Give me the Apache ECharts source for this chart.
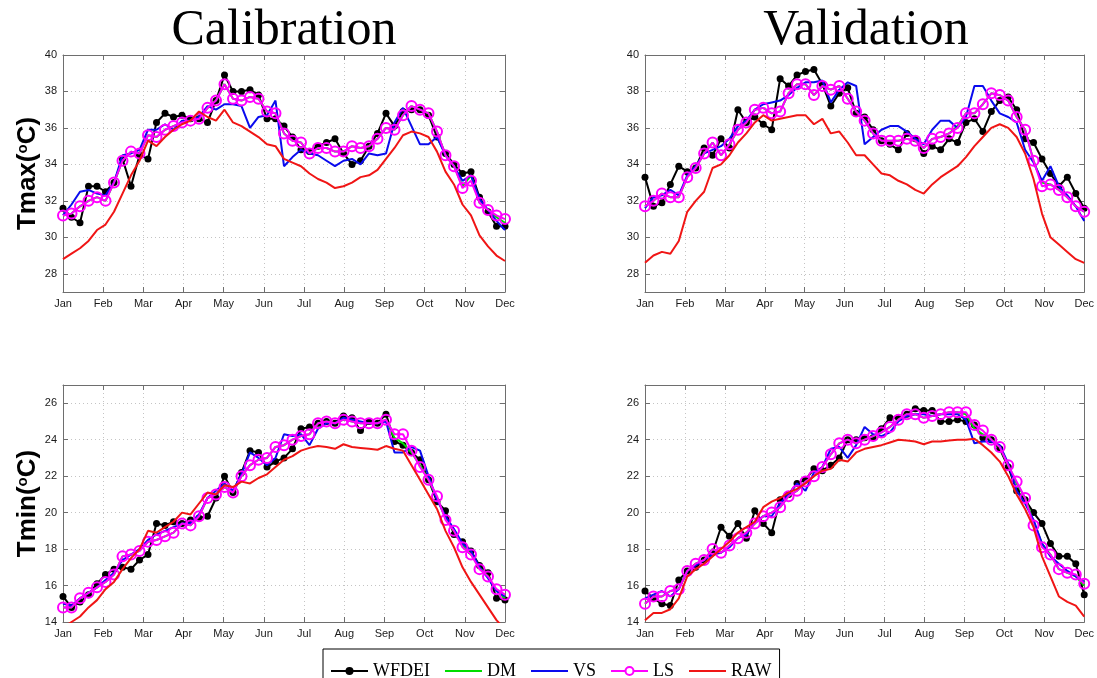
<!DOCTYPE html>
<html>
<head>
<meta charset="utf-8">
<title>Tmax / Tmin seasonal cycle</title>
<script src="https://cdn.jsdelivr.net/npm/echarts@6/dist/echarts.min.js"></script>
<style>
  html, body { margin: 0; padding: 0; background: #ffffff; }
  #chart { width: 1097px; height: 678px; }
</style>
</head>
<body>
<div id="chart"></div>
<script>
// Month tick labels (axis runs from Jan to Dec)
const months = ['Jan', 'Feb', 'Mar', 'Apr', 'May', 'Jun', 'Jul', 'Aug', 'Sep', 'Oct', 'Nov', 'Dec'];
const seriesNames = ['WFDEI', 'DM', 'VS', 'LS', 'RAW'];

// ---- Calibration, Tmax (°C), one value per week ----
const calTmaxWFDEI = [31.6,31.1,30.8,32.8,32.8,32.5,33.0,34.3,32.8,34.5,34.3,36.3,36.8,36.6,36.7,36.5,36.5,36.3,37.5,38.9,38.0,38.0,38.1,37.8,36.5,36.5,36.1,35.5,34.8,34.7,35.0,35.2,35.4,34.6,34.0,34.2,35.0,35.7,36.8,36.1,36.9,37.0,37.0,36.7,35.5,34.6,34.0,33.5,33.6,32.2,31.4,30.6,30.6];
const calTmaxDM    = [31.2,31.3,31.7,32.0,32.2,32.0,33.0,34.2,34.7,34.6,35.6,35.5,35.9,36.1,36.3,36.4,36.5,37.1,37.5,38.4,37.6,37.5,37.7,37.6,36.9,36.8,35.7,35.3,35.2,34.6,34.9,34.9,34.7,34.7,35.0,34.9,35.0,35.4,36.0,35.9,36.7,37.2,37.0,36.8,35.8,34.5,33.9,32.8,33.4,31.9,31.5,31.1,30.8];
const calTmaxVS    = [31.2,31.8,32.5,32.6,32.4,32.3,33.0,34.5,34.6,34.8,35.9,35.9,36.2,35.9,36.4,36.4,36.6,37.2,37.0,37.3,37.3,37.2,36.0,36.6,36.7,37.5,33.9,34.4,34.8,34.6,34.5,34.2,33.9,34.2,34.3,34.0,34.6,34.5,34.6,36.3,37.1,36.1,35.1,35.1,35.5,34.5,33.9,33.1,33.4,32.1,31.5,30.9,30.4];
const calTmaxLS    = [31.2,31.3,31.7,32.0,32.2,32.0,33.0,34.2,34.7,34.6,35.6,35.5,35.9,36.1,36.3,36.4,36.5,37.1,37.5,38.4,37.6,37.5,37.7,37.6,36.9,36.8,35.7,35.3,35.2,34.6,34.9,34.9,34.7,34.7,35.0,34.9,35.0,35.4,36.0,35.9,36.7,37.2,37.0,36.8,35.8,34.5,33.9,32.7,33.1,31.9,31.5,31.2,31.0];
const calTmaxRAW   = [28.8,29.1,29.4,29.8,30.4,30.7,31.4,32.4,33.4,34.2,35.3,35.0,35.5,35.9,36.2,36.4,36.9,36.6,36.4,37.0,36.3,36.1,35.8,35.5,35.1,35.0,34.3,34.1,33.9,33.5,33.2,33.0,32.7,32.8,33.0,33.3,33.4,33.7,34.3,34.9,35.6,35.8,35.7,35.5,34.7,33.6,32.9,31.8,31.2,30.1,29.5,29.0,28.7];

// ---- Validation, Tmax (°C) ----
const valTmaxWFDEI = [33.3,31.7,31.9,32.9,33.9,33.6,33.8,34.9,34.5,35.4,34.9,37.0,36.3,36.6,36.2,35.9,38.7,38.3,38.9,39.1,39.2,38.4,37.2,37.9,38.2,36.8,36.6,35.9,35.3,35.1,34.8,35.7,35.4,34.6,35.0,34.8,35.4,35.2,36.3,36.5,35.8,36.9,37.5,37.7,37.0,35.4,35.2,34.3,33.5,32.8,33.3,32.4,31.6];
const valTmaxDM    = [31.7,32.0,32.4,32.2,32.2,33.3,33.8,34.6,35.2,34.5,35.1,35.9,36.3,37.0,37.1,36.8,36.9,37.9,38.4,38.4,37.8,38.3,38.1,38.3,37.6,36.9,36.4,35.7,35.3,35.3,35.3,35.4,35.3,34.9,35.4,35.5,35.7,36.1,36.8,36.8,37.3,37.9,37.8,37.5,36.6,35.9,34.2,33.0,32.9,32.6,32.2,31.7,31.4];
const valTmaxVS    = [31.6,32.2,32.3,32.6,32.3,33.4,33.9,34.6,34.8,35.0,35.4,36.1,36.4,37.0,37.3,37.4,37.5,37.8,38.2,38.5,38.5,38.6,37.4,38.1,38.5,38.3,35.1,35.5,35.9,36.1,36.1,35.8,35.4,35.1,35.9,36.4,36.4,36.0,36.6,38.3,38.3,37.5,36.8,36.6,36.3,34.8,34.1,33.1,33.9,32.8,32.3,31.7,30.9];
const valTmaxLS    = [31.7,32.0,32.4,32.2,32.2,33.3,33.8,34.6,35.2,34.5,35.1,35.9,36.3,37.0,37.1,36.8,36.9,37.9,38.4,38.4,37.8,38.3,38.1,38.3,37.6,36.9,36.4,35.7,35.3,35.3,35.3,35.4,35.3,34.9,35.4,35.5,35.7,36.0,36.8,36.8,37.3,37.9,37.8,37.5,36.6,35.9,34.2,32.8,32.9,32.6,32.2,31.7,31.4];
const valTmaxRAW   = [28.6,29.0,29.2,29.1,29.8,31.4,32.0,32.5,33.8,34.0,34.5,35.2,35.7,36.3,36.7,36.4,36.5,36.6,36.7,36.7,36.2,36.5,35.7,35.8,35.2,34.5,34.5,34.0,33.5,33.4,33.1,32.9,32.6,32.4,32.9,33.3,33.6,33.9,34.4,35.0,35.5,36.0,36.2,36.0,35.5,34.6,33.2,31.3,30.0,29.6,29.2,28.8,28.6];

// ---- Calibration, Tmin (°C) ----
const calTminWFDEI = [15.4,14.8,15.1,15.5,16.1,16.6,16.9,17.0,16.9,17.4,17.7,19.4,19.3,19.5,19.4,19.6,19.7,19.8,20.8,22.0,21.1,22.2,23.4,23.3,22.5,22.8,23.0,23.5,24.6,24.7,24.9,25.0,24.9,25.3,25.2,24.5,25.0,24.9,25.4,23.9,23.7,23.3,22.9,21.8,20.6,20.1,18.8,18.4,17.9,17.1,16.7,15.3,15.2];
const calTminDM    = [14.8,14.8,15.3,15.6,15.9,16.2,16.6,17.6,17.7,17.9,18.4,18.5,18.7,18.9,19.4,19.3,19.8,20.8,21.0,21.4,21.1,22.0,22.6,22.9,23.0,23.6,23.7,24.0,24.2,24.3,24.9,25.0,24.9,25.1,25.0,24.9,24.9,24.9,25.1,24.1,23.8,23.3,22.6,21.8,20.8,19.7,19.0,18.2,17.7,17.0,16.5,15.7,15.3];
const calTminVS    = [15.0,14.9,15.3,15.6,15.9,16.3,16.7,17.4,17.7,18.0,18.5,18.8,19.0,19.2,19.4,19.4,19.9,20.8,21.2,21.6,21.2,22.1,23.3,23.0,22.6,23.0,24.3,24.2,24.3,23.7,24.6,24.9,24.9,25.2,25.1,25.0,24.9,24.9,25.0,23.3,23.3,23.6,23.4,22.0,20.7,19.8,19.1,18.3,17.9,17.0,16.4,15.7,15.4];
const calTminLS    = [14.8,14.8,15.3,15.6,15.9,16.2,16.6,17.6,17.7,17.9,18.4,18.5,18.7,18.9,19.4,19.3,19.8,20.8,21.0,21.4,21.1,22.0,22.6,22.9,23.0,23.6,23.7,24.0,24.2,24.3,24.9,25.0,24.9,25.1,25.0,24.9,24.9,24.9,25.1,24.3,24.3,23.4,22.5,21.8,20.9,19.6,19.0,18.1,17.7,16.9,16.5,15.8,15.5];
const calTminRAW   = [13.7,14.0,14.3,14.8,15.2,15.8,16.2,16.9,17.5,18.0,19.0,18.9,19.2,19.5,20.0,19.9,20.5,21.1,21.0,21.5,21.4,21.7,21.6,21.9,22.1,22.5,22.9,23.1,23.4,23.55,23.65,23.6,23.5,23.75,23.6,23.55,23.5,23.45,23.65,23.5,23.4,22.6,21.8,21.0,20.2,19.0,18.1,17.0,16.2,15.5,14.8,14.1,13.6];

// ---- Validation, Tmin (°C) ----
const valTminWFDEI = [15.7,15.3,15.0,14.9,16.3,16.8,17.0,17.4,17.8,19.2,18.7,19.4,18.6,20.1,19.4,18.9,20.7,21.0,21.6,21.8,22.4,22.3,22.6,23.0,24.0,24.0,24.1,24.1,24.6,25.2,25.2,25.4,25.7,25.6,25.6,25.0,25.0,25.1,25.0,24.8,24.1,24.0,23.5,22.5,21.2,20.7,20.0,19.4,18.3,17.6,17.6,17.2,15.5];
const valTminDM    = [15.0,15.4,15.4,15.7,15.8,16.8,17.2,17.4,18.0,17.8,18.2,18.6,18.9,19.4,19.8,20.0,20.3,20.9,21.2,21.7,22.0,22.5,23.2,23.8,24.0,23.8,24.0,24.2,24.4,24.7,25.1,25.4,25.4,25.2,25.3,25.4,25.5,25.5,25.4,24.6,24.3,24.0,23.6,22.6,21.6,20.8,19.5,18.3,17.7,16.9,16.7,16.5,16.0];
const valTminVS    = [15.3,15.5,15.7,15.4,15.8,16.8,17.1,17.4,17.7,17.8,18.1,18.6,18.8,19.5,19.8,19.8,20.5,21.0,21.6,21.2,22.2,22.5,23.5,23.6,23.0,23.7,24.7,24.3,24.2,24.4,25.0,25.3,25.4,25.4,25.3,25.4,25.4,25.4,25.1,23.8,23.9,23.9,23.7,22.7,21.2,20.5,19.6,18.3,17.6,17.2,16.8,16.5,16.2];
const valTminLS    = [15.0,15.4,15.4,15.7,15.8,16.8,17.2,17.4,18.0,17.8,18.2,18.6,18.9,19.4,19.8,20.0,20.3,20.9,21.2,21.7,22.0,22.5,23.2,23.8,24.0,23.8,24.0,24.2,24.4,24.7,25.1,25.4,25.4,25.2,25.3,25.4,25.5,25.5,25.5,24.8,24.5,24.0,23.6,22.6,21.7,20.8,19.3,18.1,17.7,16.9,16.7,16.6,16.1];
const valTminRAW   = [14.1,14.5,14.5,14.7,15.3,16.5,16.9,17.2,17.6,18.0,18.4,18.9,19.2,19.5,20.3,20.6,20.8,21.1,21.3,21.6,22.0,22.3,22.4,22.9,22.8,23.3,23.5,23.6,23.7,23.85,24.0,23.95,23.9,23.75,23.9,23.9,23.95,24.0,24.0,24.05,23.7,23.3,22.8,22.0,21.0,20.2,19.2,17.6,16.5,15.4,15.1,14.9,14.3];

// Panel layout: grid box (px) and y range
const panels = [
  { box: { left: 63,  top: 55,  width: 442, height: 237 }, yMin: 27, yMax: 40, yName: 'Tmax',
    data: [calTmaxWFDEI, calTmaxDM, calTmaxVS, calTmaxLS, calTmaxRAW] },
  { box: { left: 645, top: 55,  width: 442, height: 237 }, yMin: 27, yMax: 40, yName: null,
    data: [valTmaxWFDEI, valTmaxDM, valTmaxVS, valTmaxLS, valTmaxRAW] },
  { box: { left: 63,  top: 385, width: 442, height: 237 }, yMin: 14, yMax: 27, yName: 'Tmin',
    data: [calTminWFDEI, calTminDM, calTminVS, calTminLS, calTminRAW] },
  { box: { left: 645, top: 385, width: 442, height: 237 }, yMin: 14, yMax: 27, yName: null,
    data: [valTminWFDEI, valTminDM, valTminVS, valTminLS, valTminRAW] }
];

const frameColor = '#6e6e6e';
const labelFont = { color: '#1a1a1a', fontSize: 11, fontFamily: 'Liberation Sans, Arial, sans-serif' };
const dotted = { show: true, lineStyle: { color: '#c4c4c4', width: 1, type: [1, 3] } };

const seriesStyle = {
  WFDEI: { color: '#000000', symbol: 'circle', symbolSize: 7, width: 2 },
  DM:    { color: '#00dd00', symbol: 'none', width: 2 },
  VS:    { color: '#0a0aee', symbol: 'none', width: 2 },
  LS:    { color: '#ff00ff', symbol: 'circle', symbolSize: 10, width: 2, hollow: true },
  RAW:   { color: '#f01515', symbol: 'none', width: 2 }
};

// week index -> position on the Jan..Dec month axis
function toXY(values) {
  const n = values.length;
  return values.map((v, i) => [i * 11 / (n - 1), v]);
}

const grid = [], xAxis = [], yAxis = [], series = [];

panels.forEach((p, g) => {
  grid.push(Object.assign({ containLabel: false }, p.box));

  // bottom axis with month labels
  xAxis.push({
    type: 'value', gridIndex: g, min: 0, max: 11, interval: 1, position: 'bottom',
    axisLine: { show: true, lineStyle: { color: frameColor, width: 1 } },
    axisTick: { show: true, inside: true, length: 5, lineStyle: { color: frameColor } },
    axisLabel: Object.assign({ margin: 6, formatter: v => months[Math.round(v)] }, labelFont),
    splitLine: dotted
  });
  // top frame edge with ticks
  xAxis.push({
    type: 'value', gridIndex: g, min: 0, max: 11, interval: 1, position: 'top',
    axisLine: { show: true, onZero: false, lineStyle: { color: frameColor, width: 1 } },
    axisTick: { show: true, inside: true, length: 5, lineStyle: { color: frameColor } },
    axisLabel: { show: false }, splitLine: { show: false }
  });

  const nameRich = {
    a: { fontSize: 26, fontWeight: 'bold', fontFamily: 'Liberation Sans, Arial, sans-serif', color: '#000' },
    s: { fontSize: 15, fontWeight: 'bold', fontFamily: 'Liberation Sans, Arial, sans-serif', color: '#000', verticalAlign: 'top' }
  };
  const isTop = p.yMax === 40;
  yAxis.push({
    type: 'value', gridIndex: g, min: p.yMin, max: p.yMax, splitNumber: 6, position: 'left',
    name: p.yName ? '{a|' + p.yName + '(}{s|o}{a|C)}' : '',
    nameLocation: 'middle', nameRotate: 90, nameGap: 20,
    nameTextStyle: { rich: nameRich },
    axisLine: { show: true, lineStyle: { color: frameColor, width: 1 } },
    axisTick: { show: true, inside: true, length: 5, lineStyle: { color: frameColor } },
    axisLabel: Object.assign({ margin: 6, showMinLabel: !isTop, showMaxLabel: isTop }, labelFont),
    splitLine: dotted
  });
  yAxis.push({
    type: 'value', gridIndex: g, min: p.yMin, max: p.yMax, splitNumber: 6, position: 'right',
    axisLine: { show: true, onZero: false, lineStyle: { color: frameColor, width: 1 } },
    axisTick: { show: true, inside: true, length: 5, lineStyle: { color: frameColor } },
    axisLabel: { show: false }, splitLine: { show: false }
  });

  seriesNames.forEach((name, k) => {
    const st = seriesStyle[name];
    series.push({
      name: name, type: 'line',
      xAxisIndex: g * 2, yAxisIndex: g * 2,
      data: toXY(p.data[k]),
      symbol: st.symbol, symbolSize: st.symbolSize || 0, showSymbol: st.symbol !== 'none',
      lineStyle: { color: st.color, width: st.width },
      itemStyle: st.hollow
        ? { color: 'rgba(255,255,255,0)', borderColor: st.color, borderWidth: 2 }
        : { color: st.color },
      emphasis: { disabled: true },
      animation: false, clip: true, z: 2 + k * 0.01
    });
  });
});

// legend entries: plain line for unmarked series, line + marker for the rest
const legendData = seriesNames.map(n => {
  const st = seriesStyle[n];
  if (st.symbol === 'none') return { name: n, itemStyle: { opacity: 0 } };
  if (st.hollow) return { name: n, itemStyle: { color: '#ffffff', borderColor: st.color, borderWidth: 2 } };
  return { name: n };
});

const chart = echarts.init(document.getElementById('chart'), null, { renderer: 'canvas' });
chart.setOption({
  backgroundColor: '#ffffff',
  animation: false,
  grid: grid,
  xAxis: xAxis,
  yAxis: yAxis,
  series: series,
  legend: {
    data: legendData,
    left: 323, top: 649,
    orient: 'horizontal',
    itemWidth: 37, itemHeight: 10, itemGap: 14,
    padding: [13, 8, 24, 7],
    borderColor: '#000000', borderWidth: 1,
    backgroundColor: '#ffffff',
    selectedMode: false,
    textStyle: { fontFamily: 'Liberation Serif, Times New Roman, serif', fontSize: 18, color: '#000' }
  },
  graphic: [
    { type: 'text', x: 284, y: 31, style: { text: 'Calibration', fill: '#000', font: '50px "Liberation Serif", "Times New Roman", serif', textAlign: 'center', textVerticalAlign: 'middle' } },
    { type: 'text', x: 866, y: 31, style: { text: 'Validation', fill: '#000', font: '50px "Liberation Serif", "Times New Roman", serif', textAlign: 'center', textVerticalAlign: 'middle' } }
  ]
});
</script>
</body>
</html>
